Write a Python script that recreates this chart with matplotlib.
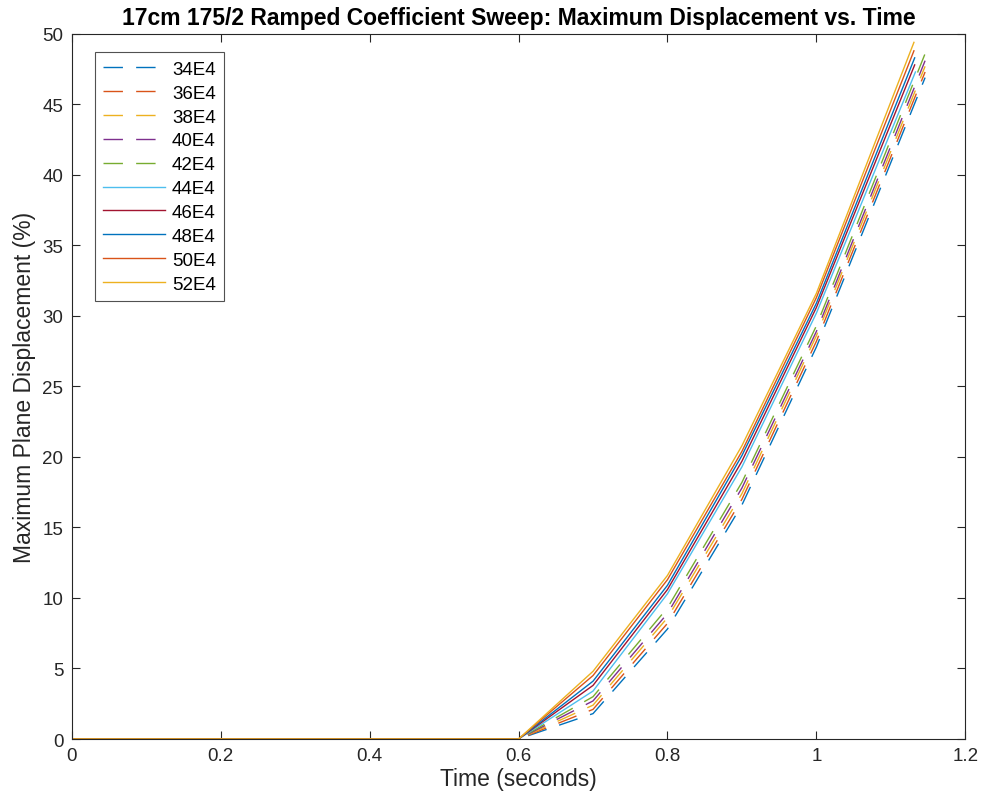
import matplotlib
matplotlib.use('Agg')
import matplotlib.pyplot as plt
import numpy as np

plt.rcParams['font.family'] = ['Liberation Sans', 'DejaVu Sans']

# series labels (coefficient values)
labels = ['34E4', '36E4', '38E4', '40E4', '42E4', '44E4', '46E4', '48E4', '50E4', '52E4']

# shared time samples before the final step
t_base = [0.0, 0.1, 0.2, 0.3, 0.4, 0.5, 0.6, 0.7, 0.8, 0.9, 1.0]

# final time sample of each run
t_end = [1.146, 1.146, 1.146, 1.146, 1.146, 1.133, 1.132, 1.132, 1.131, 1.131]

# displacement (%) at 0.7, 0.8, 0.9, 1.0 and the end sample
d_07 = [1.8, 2.1, 2.4, 2.7, 3.0, 3.4, 3.8, 4.1, 4.5, 4.8]
d_08 = [7.8, 8.2, 8.6, 8.9, 9.3, 10.3, 10.6, 10.9, 11.3, 11.6]
d_09 = [16.6, 17.0, 17.4, 17.8, 18.2, 19.3, 19.7, 20.1, 20.4, 20.8]
d_10 = [27.8, 28.2, 28.6, 28.9, 29.3, 30.2, 30.6, 30.9, 31.3, 31.6]
d_end = [46.9, 47.3, 47.7, 48.1, 48.6, 47.3, 47.8, 48.3, 48.8, 49.4]

colors = ['#0072BD', '#D95319', '#EDB120', '#7E2F8E', '#77AC30',
          '#4DBEEE', '#A2142F', '#0072BD', '#D95319', '#EDB120']
styles = ['--'] * 5 + ['-'] * 5

fig = plt.figure(figsize=(9.84, 8.04), dpi=100)
ax = fig.add_axes([0.073, 0.0796, 0.908, 0.877])

for i in range(len(labels)):
    t = t_base + [t_end[i]]
    d = [0.0] * 7 + [d_07[i], d_08[i], d_09[i], d_10[i], d_end[i]]
    if styles[i] == '--':
        ax.plot(t, d, color=colors[i], lw=1.0, dashes=(14, 9.5), label=labels[i])
    else:
        ax.plot(t, d, color=colors[i], lw=1.0, label=labels[i])

ax.set_xlim(0, 1.2)
ax.set_ylim(0, 50)
ax.set_xticks(np.arange(0, 1.21, 0.2))
ax.set_xticklabels(['0', '0.2', '0.4', '0.6', '0.8', '1', '1.2'])
ax.set_yticks(np.arange(0, 51, 5))

axcol = '#262626'
for s in ax.spines.values():
    s.set_color(axcol)
    s.set_linewidth(0.8)
ax.tick_params(direction='in', top=True, right=True, colors=axcol,
               labelsize=13.5, length=6, width=0.8, pad=6)

ax.set_xlabel('Time (seconds)', fontsize=16.5, color=axcol, labelpad=2)
ax.set_ylabel('Maximum Plane Displacement (%)', fontsize=16.5, color=axcol, labelpad=5)
ax.set_title('17cm 175/2 Ramped Coefficient Sweep: Maximum Displacement vs. Time',
             fontsize=16.5, fontweight='bold', pad=7)

leg = ax.legend(loc='upper left', bbox_to_anchor=(0.026, 0.974), fontsize=13.5,
                frameon=True, fancybox=False, handlelength=3.3, handletextpad=0.35,
                labelspacing=0.36, borderpad=0.45, borderaxespad=0)
leg.get_frame().set_edgecolor(axcol)
leg.get_frame().set_linewidth(0.8)

fig.savefig('out.png', dpi=100)
